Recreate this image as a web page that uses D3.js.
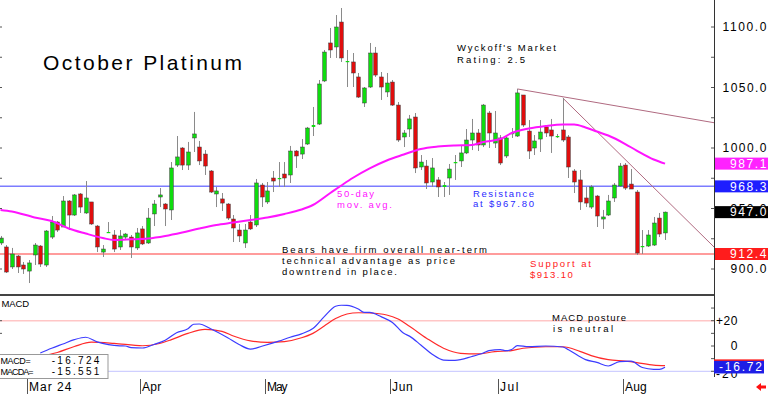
<!DOCTYPE html>
<html>
<head>
<meta charset="utf-8">
<script src="https://cdn.jsdelivr.net/npm/d3@7"></script>
<style>
  body { margin: 0; background: #fff; }
  svg { display: block; font-family: "Liberation Sans", Arial, sans-serif; }
</style>
</head>
<body>
<svg id="chart" width="768" height="394"></svg>
<script>
/* global d3 */

// daily candles, Feb 23 .. Aug 9 (trading-day index 0..117)
const opens = [921.5,918.2,901.7,910.7,903.3,898.3,911.6,919.0,903.3,926.4,938.8,934.7,956.2,944.6,962.0,946.3,955.4,935.5,914.0,930.2,
  928.1,918.2,926.4,926.4,917.4,933.1,921.5,945.5,959.5,953.7,948.8,985.9,1000.0,985.9,1008.3,1000.8,995.0,981.0,962.0,957.9,
  953.7,941.3,932.2,921.5,938.8,936.4,969.4,955.4,975.2,974.4,978.5,977.7,997.5,995.0,1003.3,1017.4,1019.8,1055.4,1086.8,1083.5,
  1104.1,1071.1,1071.1,1058.7,1037.2,1050.4,1078.5,1058.7,1046.3,1054.5,1035.5,1009.1,1015.7,1025.6,984.3,985.1,971.9,973.6,967.8,975.2,
  988.0,989.3,995.9,1006.6,1012.4,1002.5,1028.9,1004.1,1008.3,993.4,1012.0,1009.9,1043.8,1014.0,1000.0,1007.4,1017.4,1014.9,1009.5,1014.9,
  1009.1,981.0,973.6,958.7,951.2,960.3,941.3,944.6,958.7,968.6,985.9,970.2,963.6,918.2,919.0,919.8,942.1,929.8];
const highs = [927.3,919.8,917.4,911.6,905.8,907.4,921.5,919.8,932.2,943.8,939.7,960.3,957.0,962.0,962.8,972.7,955.4,936.4,919.8,938.8,
  932.2,932.2,929.8,928.1,933.9,935.5,950.4,957.0,966.9,954.5,988.4,1009.9,1000.8,1005.0,1029.8,1005.8,998.3,981.8,967.8,962.8,
  954.5,944.6,937.2,937.2,944.6,974.4,971.1,971.9,981.0,988.4,988.4,1001.7,998.3,1007.4,1017.4,1033.9,1056.2,1081.0,1099.2,1109.9,
  1115.7,1081.0,1078.5,1062.0,1050.4,1086.8,1083.5,1062.8,1062.0,1056.2,1038.0,1014.9,1027.3,1028.9,994.2,990.1,991.7,976.0,971.9,986.8,
  994.2,1001.7,1015.7,1024.0,1015.7,1036.4,1030.6,1030.6,1010.7,1009.9,1016.5,1048.8,1043.8,1023.1,1010.7,1023.1,1018.2,1024.0,1011.6,1041.3,
  1010.7,982.6,981.8,967.8,969.4,961.2,948.8,961.2,971.1,987.6,987.6,982.6,965.3,932.2,932.2,943.0,946.3,947.5];
const lows = [919.8,896.7,900.0,896.7,895.9,888.4,903.3,901.7,901.7,924.8,930.6,934.7,932.2,943.8,946.3,945.5,936.4,914.0,909.9,929.8,
  914.0,915.7,924.8,909.1,915.7,919.8,920.7,935.5,951.2,935.5,940.5,984.3,981.8,981.8,996.7,985.9,977.7,962.8,951.2,947.9,
  940.5,922.3,922.3,917.4,932.2,934.7,951.2,953.7,963.6,967.8,967.8,971.1,983.5,990.9,1002.5,1009.9,1019.0,1054.5,1074.4,1074.4,
  1071.1,1050.4,1050.4,1041.3,1033.9,1049.6,1058.7,1039.7,1042.1,1034.7,1005.0,1000.8,1009.1,979.3,981.8,966.1,967.8,959.5,959.5,961.2,
  973.6,984.3,995.0,998.3,997.5,1000.8,1000.0,1000.0,985.9,991.7,1008.3,1009.1,1017.4,990.9,994.2,996.7,1009.1,995.9,1008.3,1005.0,
  975.2,962.8,948.8,951.2,949.6,934.7,933.1,943.8,955.4,967.8,965.3,966.1,911.6,912.4,918.2,919.0,926.4,924.0];
const closes = [925.6,897.5,912.4,901.7,900.0,905.0,919.8,904.1,931.4,938.8,932.2,956.2,944.6,961.2,951.2,958.7,937.2,918.2,916.5,930.6,
  916.5,927.3,928.9,918.2,929.8,920.7,942.1,953.7,961.2,949.6,983.5,992.6,985.9,996.7,1011.6,989.3,985.1,963.6,964.5,954.5,
  942.1,933.9,927.3,932.2,933.1,971.1,959.5,964.5,972.7,975.2,975.2,997.5,993.4,1000.8,1016.5,1019.0,1052.9,1079.3,1081.0,1100.0,
  1074.4,1071.9,1062.0,1042.1,1049.6,1078.5,1060.3,1050.4,1053.7,1035.5,1006.6,1012.4,1024.0,983.5,988.4,971.1,983.5,967.8,969.4,982.6,
  988.4,995.9,1006.6,1012.4,1002.5,1035.5,1012.4,1012.4,987.6,1008.3,1012.4,1045.5,1019.0,997.5,1005.8,1013.2,1012.4,1009.9,1009.9,1006.6,
  984.3,971.9,955.4,954.5,967.8,943.8,943.0,956.2,969.4,985.1,966.9,966.1,913.2,919.0,928.1,938.0,928.9,947.0];

// 50-day moving average, read at these trading-day indexes
const maIdx = [0,2,6,9,12,15,18,20,23,26,29,32,35,38,41,44,47,50,53,55,58,60,62,65,68,71,74,77,80,83,85,88,90,93,96,99,101,103,105,107,110,112,115,117];
const maVal = [948.8,947.5,942.6,939.7,933.5,929.3,925.6,924.0,924.5,925.2,927.3,930.2,933.5,936.4,938.4,940.5,942.6,945.5,949.2,952.9,962.6,969.0,975.2,983.2,989.7,994.6,999.2,1001.2,1002.1,1002.5,1005.0,1007.4,1012.4,1016.1,1018.2,1019.4,1019.4,1017.0,1013.6,1010.3,1003.3,997.9,990.5,987.1];

// MACD and its average (MACDA)
const macdIdx = [7,9,11,13,15,17,19,21,22,23,25,27,29,31,33,34,35,37,40,42,44,46,49,51,53,55,57,59,60,61,63,64,65,67,69,71,72,74,76,78,80,83,85,86,88,89,90,91,93,96,99,100,103,105,107,109,111,113,115,116,117];
const macdVal = [-5.5,-1.8,1.6,5.0,6.9,3.3,1.1,0.1,0,-1.3,-1.6,1.2,4.6,10.5,13.6,17.2,17.4,13.6,6.5,1.2,-2.4,-0.2,3.8,6.9,9.6,13.8,23.2,31.4,32.2,32.1,29.2,26.6,26.6,23.2,18.6,10.0,7.8,0.8,-6.5,-11.1,-11.3,-8.3,-5.5,-3.6,-2.8,-3.7,-2.8,0.3,-0.5,0,-0.8,-3.0,-10.8,-13.0,-15.8,-12.3,-12.0,-17.0,-18.4,-18.4,-16.724];
const signalIdx = [7,10,13,16,20,25,28,30,33,36,39,41,44,47,50,53,55,57,59,61,63,65,68,70,72,75,78,81,84,87,90,92,96,99,102,104,107,110,112,115,117];
const signalVal = [-8.2,-5.1,-0.4,3.0,2.1,0.2,2.0,4.8,10.0,13.1,11.5,7.9,4.0,2.9,3.5,6.5,10.0,15.8,21.7,25.3,26.3,26.1,24.5,21.3,15.6,6.2,-1.8,-5.8,-6.3,-4.5,-3.6,-1.8,-0.6,-0.6,-4.2,-7.6,-10.8,-12.0,-13.1,-15.1,-15.551];

const monthLabels = ['Mar 24', 'Apr', 'May', 'Jun', 'Jul', 'Aug'];
const monthStart = [5, 25, 47, 69, 88, 110];
const priceTicks = [900, 950, 1000, 1050, 1100];
const macdTicks = [20, 0, -20];

const resistance = 968.3;
const support = 912.4;
const lastClose = 947.0;
const lastMA = 987.1;
const lastMacd = -16.724;
const lastSignal = -15.551;

// trend lines: [start index, start price, price at right edge]
const trendLines = [[91, 1048.8, 1020.9], [99, 1041.3, 918.2]];

const W = 768, H = 394;
const plotRight = 714;
const nSlots = 125.62;
const noteSize = 9.5;

const svg = d3.select('#chart');
svg.append('rect').attr('width', W).attr('height', H).attr('fill', '#fff');

const x = d3.scaleLinear().domain([0, nSlots]).range([0.5, plotRight]);
const y = d3.scaleLinear().domain([900, 1100]).range([269, 27]);
const ym = d3.scaleLinear().domain([-20, 20]).range([371.3, 320.7]);

const defs = svg.append('defs');
defs.append('clipPath').attr('id', 'main-clip')
  .append('rect').attr('x', 0).attr('y', 0).attr('width', plotRight).attr('height', 294);
defs.append('clipPath').attr('id', 'macd-clip')
  .append('rect').attr('x', 0).attr('y', 296).attr('width', plotRight).attr('height', 82);

// sized text helper, cy is the visual middle of the caps
const label = (g, str, tx, cy, size, width, color, anchor) => {
  const t = g.append('text')
    .attr('x', tx)
    .attr('y', cy + size * 0.36)
    .attr('font-size', size)
    .attr('fill', color || '#000')
    .attr('text-anchor', anchor || 'start')
    .text(str);
  if (width) t.attr('textLength', width).attr('lengthAdjust', 'spacing');
  return t;
};

// ---- main price panel
const main = svg.append('g').attr('class', 'main');
const mainClip = main.append('g').attr('clip-path', 'url(#main-clip)');

// support / resistance
mainClip.append('line')
  .attr('x1', 0).attr('x2', plotRight)
  .attr('y1', y(support)).attr('y2', y(support))
  .attr('stroke', '#ff9c9c').attr('stroke-width', 2);
mainClip.append('line')
  .attr('x1', 0).attr('x2', plotRight)
  .attr('y1', y(resistance)).attr('y2', y(resistance))
  .attr('stroke', '#7c7cff').attr('stroke-width', 1.5);

// trend lines
mainClip.selectAll('.trend')
  .data(trendLines)
  .enter()
  .append('line')
  .attr('class', 'trend')
  .attr('x1', d => x(d[0])).attr('y1', d => y(d[1]))
  .attr('x2', x(nSlots)).attr('y2', d => y(d[2]))
  .attr('stroke', '#b06a80').attr('stroke-width', 1);

// candles
const candles = d3.range(opens.length).map(i => ({
  i, o: opens[i], h: highs[i], l: lows[i], c: closes[i]
}));

const candle = mainClip.append('g').attr('class', 'candles')
  .selectAll('g')
  .data(candles)
  .enter()
  .append('g');

candle.append('line')
  .attr('x1', d => Math.round(x(d.i)) + 0.5)
  .attr('x2', d => Math.round(x(d.i)) + 0.5)
  .attr('y1', d => y(d.h))
  .attr('y2', d => y(d.l))
  .attr('stroke', '#8a8a8a')
  .attr('stroke-width', 1);

candle.append('rect')
  .attr('x', d => Math.round(x(d.i)) - 1.3)
  .attr('width', 3.6)
  .attr('y', d => y(Math.max(d.o, d.c)))
  .attr('height', d => Math.max(1.2, Math.abs(y(d.o) - y(d.c))))
  .attr('fill', d => d.c >= d.o ? '#0edc0e' : '#e00d0d')
  .attr('stroke', d => Math.abs(y(d.o) - y(d.c)) < 2 ? 'none' : '#3a3a3a')
  .attr('stroke-width', 0.5);

// 50-day average
mainClip.append('path')
  .datum(maIdx.map((d, k) => [d, maVal[k]]))
  .attr('fill', 'none')
  .attr('stroke', '#ff14ff')
  .attr('stroke-width', 2)
  .attr('d', d3.line().x(d => x(d[0])).y(d => y(d[1])).curve(d3.curveMonotoneX));

// annotations
label(main, 'October Platinum', 43, 62.5, 21, 199, '#000');
label(main, 'Wyckoff\'s Market', 457, 48, noteSize, 99, '#000');
label(main, 'Rating: 2.5', 457, 59.5, noteSize, 68, '#000');
label(main, '50-day', 337, 194, noteSize, 37, '#ff14ff');
label(main, 'mov. avg.', 337, 204.5, noteSize, 55, '#ff14ff');
label(main, 'Resistance', 473, 193.3, noteSize, 61, '#2a2aff');
label(main, 'at $967.80', 473, 204, noteSize, 61, '#2a2aff');
label(main, 'Bears have firm overall near-term', 282, 250, noteSize, 205, '#000');
label(main, 'technical advantage as price', 282, 260.7, noteSize, 173, '#000');
label(main, 'downtrend in place.', 282, 271.3, noteSize, 115, '#000');
label(main, 'Support at', 530, 263.7, noteSize, 61, '#ff2020');
label(main, '$913.10', 530, 274.3, noteSize, 42.7, '#ff2020');

// left / right tick marks every 25
const minorTicks = d3.range(900, 1101, 25);
main.selectAll('.ltick')
  .data(minorTicks)
  .enter()
  .append('line')
  .attr('x1', 0).attr('x2', 2)
  .attr('y1', d => y(d)).attr('y2', d => y(d))
  .attr('stroke', '#555');
main.selectAll('.rtick')
  .data(minorTicks.concat([1125]))
  .enter()
  .append('line')
  .attr('x1', plotRight - 3).attr('x2', plotRight)
  .attr('y1', d => y(d)).attr('y2', d => y(d))
  .attr('stroke', '#555');

// right axis labels
const axisG = svg.append('g').attr('class', 'right-axis');
priceTicks.forEach(v => {
  label(axisG, d3.format('.1f')(v), 766.5, y(v), 12, v >= 1000 ? 44 : 36, '#000', 'end');
});

const tagBox = (v, scale, fill, str) => {
  const cy = scale(v);
  axisG.append('rect')
    .attr('x', 715).attr('y', cy - 6).attr('width', 53).attr('height', 12)
    .attr('fill', fill);
  label(axisG, str, 766.5, cy, 12, 36.5, '#fff', 'end');
};
tagBox(lastMA, y, '#ff22ff', d3.format('.1f')(lastMA));
tagBox(resistance, y, '#1e1eff', d3.format('.1f')(resistance));
tagBox(lastClose, y, '#000', d3.format('.1f')(lastClose));
tagBox(support, y, '#ff1c1c', d3.format('.1f')(support));

// axis line and panel separator
svg.append('line')
  .attr('x1', plotRight + 0.5).attr('x2', plotRight + 0.5)
  .attr('y1', 0).attr('y2', 377)
  .attr('stroke', '#333');
svg.append('line')
  .attr('x1', 0).attr('x2', plotRight)
  .attr('y1', 295).attr('y2', 295)
  .attr('stroke', '#444').attr('stroke-width', 2);

// ---- MACD panel
const macdG = svg.append('g').attr('class', 'macd');
const macdClip = macdG.append('g').attr('clip-path', 'url(#macd-clip)');

macdClip.append('line')
  .attr('x1', 0).attr('x2', plotRight)
  .attr('y1', ym(20)).attr('y2', ym(20))
  .attr('stroke', '#ffc6c6').attr('stroke-width', 1.5);
macdClip.append('line')
  .attr('x1', 0).attr('x2', plotRight)
  .attr('y1', ym(-20)).attr('y2', ym(-20))
  .attr('stroke', '#c4c4ff').attr('stroke-width', 1);

const mLine = d3.line().x(d => x(d[0])).y(d => ym(d[1])).curve(d3.curveMonotoneX);
macdClip.append('path')
  .datum(signalIdx.map((d, k) => [d, signalVal[k]]))
  .attr('fill', 'none').attr('stroke', '#ff2a2a').attr('stroke-width', 1.2)
  .attr('d', mLine);
macdClip.append('path')
  .datum(macdIdx.map((d, k) => [d, macdVal[k]]))
  .attr('fill', 'none').attr('stroke', '#3c3cff').attr('stroke-width', 1.2)
  .attr('d', mLine);

label(macdG, 'MACD', 1.5, 303.3, 9.5, 27.7, '#000');
label(macdG, 'MACD posture', 552, 317.7, noteSize, 74, '#000');
label(macdG, 'is neutral', 553, 328.7, noteSize, 60, '#000');

// legend box
macdG.append('rect')
  .attr('x', -1).attr('y', 354.5).attr('width', 109).attr('height', 24)
  .attr('fill', '#fff').attr('stroke', '#999');
label(macdG, 'MACD=', 0.5, 360.7, 9, 30.2, '#000');
label(macdG, d3.format('.3f')(lastMacd).replace('−', '-'), 51.7, 360.7, 10, 47.6, '#000');
label(macdG, 'MACDA=', 0.5, 371.7, 9, 33, '#000');
label(macdG, d3.format('.3f')(lastSignal).replace('−', '-'), 51.7, 371.7, 10, 47.6, '#000');

// macd right ticks and labels
macdG.selectAll('.mtick')
  .data(d3.range(-20, 31, 10))
  .enter()
  .append('line')
  .attr('x1', plotRight - 3).attr('x2', plotRight)
  .attr('y1', d => ym(d)).attr('y2', d => ym(d))
  .attr('stroke', '#555');
macdG.selectAll('.mltick')
  .data([20, 10])
  .enter()
  .append('line')
  .attr('x1', 0).attr('x2', 2)
  .attr('y1', d => ym(d)).attr('y2', d => ym(d))
  .attr('stroke', '#555');
macdTicks.forEach(v => {
  const str = v > 0 ? '+' + v : String(v);
  label(macdG, str, 737.5, ym(v) + (v < 0 ? 2.5 : 0), 12, v === 0 ? 7 : 21.5, '#000', 'end');
});
// red MACDA tag sits behind the blue MACD tag, only its edge shows
macdG.append('rect')
  .attr('x', 714).attr('y', ym(lastSignal) - 6.3).attr('width', 50).attr('height', 12.6)
  .attr('fill', '#ff1c1c');
macdG.append('rect')
  .attr('x', 714).attr('y', ym(lastMacd) - 6.3).attr('width', 50).attr('height', 12.6)
  .attr('fill', '#1e1ee6');
label(macdG, d3.format('.2f')(lastMacd).replace('−', '-'), 762, ym(lastMacd), 12, 43, '#fff', 'end');

// ---- date axis
const dateG = svg.append('g').attr('class', 'dates');
const monthWidths = [42.4, 19.3, 20.6, 20.7, 18.3, 21.7];
monthStart.forEach((mi, k) => {
  const mx = Math.round(x(mi)) - 1.5;
  dateG.append('line')
    .attr('x1', mx).attr('x2', mx)
    .attr('y1', 379).attr('y2', 394)
    .attr('stroke', '#555');
  label(dateG, monthLabels[k], mx + 1.5, 387, 12, monthWidths[k], '#000');
});

// little red arrow bottom right
dateG.append('path')
  .attr('d', 'M756,387 L761,383 L761,385.5 L766,385.5 L766,388.5 L761,388.5 L761,391 Z')
  .attr('fill', '#ff1010');
</script>
</body>
</html>
